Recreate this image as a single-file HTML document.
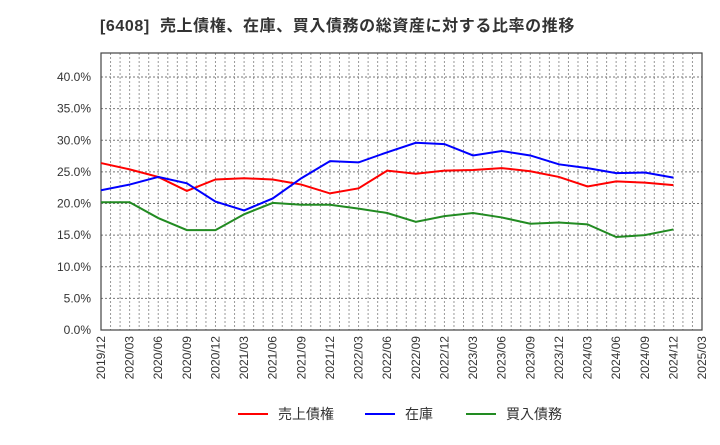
<!DOCTYPE html>
<html><head><meta charset="utf-8"><style>
body{margin:0;background:#fff;font-family:"Liberation Sans","Noto Sans CJK JP",sans-serif;}
</style></head><body>
<svg id="c" width="720" height="440" xmlns="http://www.w3.org/2000/svg">
<text x="100" y="31" font-size="16" font-weight="bold" fill="#333" letter-spacing="0.6">[6408]&#160;&#160;売上債権、在庫、買入債務の総資産に対する比率の推移</text>
<g id="grid"></g><g id="axes"></g><g id="series"></g><g id="legend"></g>
</svg>
<script>
const xLabels=["2019/12","2020/03","2020/06","2020/09","2020/12","2021/03","2021/06","2021/09","2021/12","2022/03","2022/06","2022/09","2022/12","2023/03","2023/06","2023/09","2023/12","2024/03","2024/06","2024/09","2024/12","2025/03"];
const yTicks=[0,5,10,15,20,25,30,35,40];
const receivables=[26.4,25.4,24.2,22.0,23.8,24.0,23.8,23.0,21.6,22.4,25.2,24.7,25.2,25.3,25.6,25.1,24.2,22.7,23.5,23.3,22.9];
const inventory=[22.1,23.0,24.2,23.2,20.3,18.9,20.8,24.0,26.7,26.5,28.1,29.6,29.4,27.6,28.3,27.6,26.2,25.6,24.8,24.9,24.1];
const payables=[20.2,20.2,17.7,15.8,15.8,18.3,20.1,19.8,19.8,19.2,18.5,17.1,18.0,18.5,17.8,16.8,17.0,16.7,14.7,15.0,15.9];
const seriesNames=["売上債権","在庫","買入債務"];
const colors=["#ff0000","#0000ff","#228b22"];
const L=101,R=702,T=53,B=330,ymax=43.8,months=63;
const NS="http://www.w3.org/2000/svg";
const xm=m=>L+(R-L)*m/months;
const xq=i=>xm(i*3);
const y=v=>B-(B-T)*v/ymax;
function mk(tag,attrs,parent){const e=document.createElementNS(NS,tag);for(const k in attrs)e.setAttribute(k,attrs[k]);parent.appendChild(e);return e;}
const grid=document.getElementById('grid'),axes=document.getElementById('axes'),ser=document.getElementById('series'),leg=document.getElementById('legend');
for(let m=1;m<months;m++){const l=mk('line',{x1:xm(m),x2:xm(m),y1:T,y2:B,stroke:'#999','stroke-dasharray':'2,2','stroke-width':1},grid);

}
yTicks.forEach(v=>{if(v>0){const l=mk('line',{x1:L,x2:R,y1:y(v),y2:y(v),stroke:'#777','stroke-dasharray':'2,2','stroke-width':1},grid);

}
const t=mk('text',{x:L-10,y:y(v)+4,'text-anchor':'end','font-size':12,fill:'#333'},axes);t.textContent=v.toFixed(1)+'%';

});
xLabels.forEach((s,i)=>{const x=xq(i);const t=mk('text',{transform:`translate(${x+4},${B+6}) rotate(-90)`,'text-anchor':'end','font-size':12,fill:'#333'},axes);t.textContent=s;

});
const f=mk('rect',{x:L,y:T,width:R-L,height:B-T,fill:'none',stroke:'#444','stroke-width':1.2},axes);


[receivables,inventory,payables].forEach((d,k)=>{const p=mk('polyline',{points:d.map((v,i)=>xq(i)+','+y(v)).join(' '),fill:'none',stroke:colors[k],'stroke-width':2},ser);

});
const lx=[238,365,466];
seriesNames.forEach((n,k)=>{const g=mk('g',{},leg);


mk('line',{x1:lx[k],x2:lx[k]+30,y1:414,y2:414,stroke:colors[k],'stroke-width':2},g);
const t=mk('text',{x:lx[k]+40,y:419,'font-size':14,fill:'#333'},g);t.textContent=n;});
</script>
</body></html>
